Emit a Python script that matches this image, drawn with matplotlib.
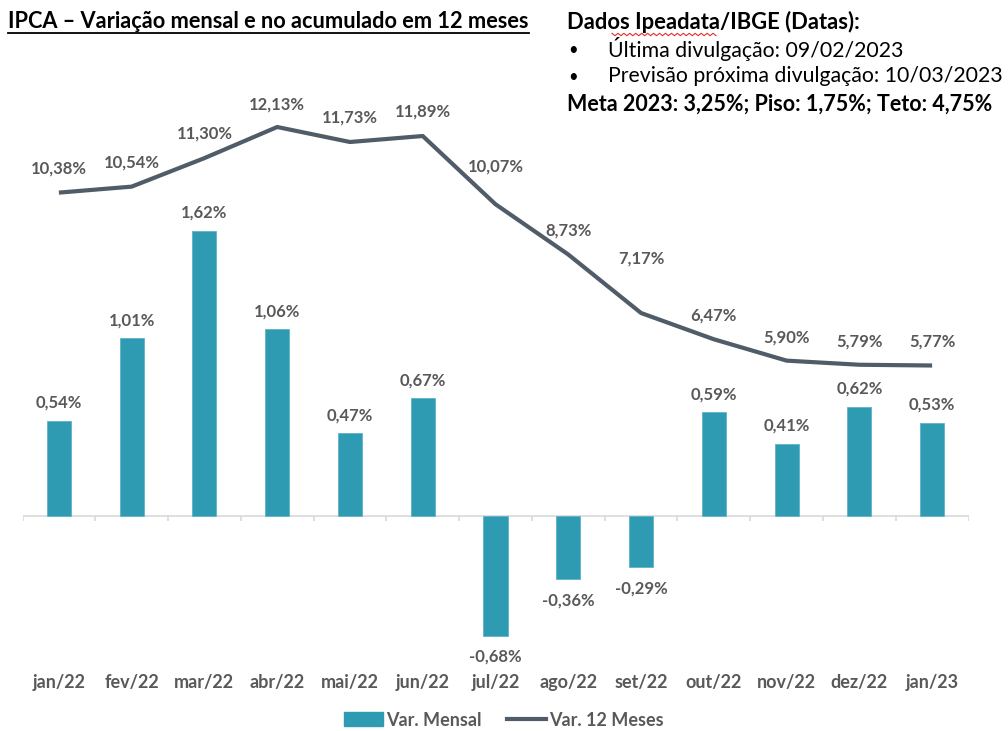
import numpy as np
import matplotlib.pyplot as plt
from matplotlib.lines import Line2D
from matplotlib.patches import Patch

# dados IPCA
meses = ["jan/22", "fev/22", "mar/22", "abr/22", "mai/22", "jun/22", "jul/22",
         "ago/22", "set/22", "out/22", "nov/22", "dez/22", "jan/23"]
var_mensal = [0.54, 1.01, 1.62, 1.06, 0.47, 0.67, -0.68, -0.36, -0.29, 0.59, 0.41, 0.62, 0.53]
var_12m = [10.38, 10.54, 11.30, 12.13, 11.73, 11.89, 10.07, 8.73, 7.17, 6.47, 5.90, 5.79, 5.77]

# deslocamento (px) dos rótulos da linha
desloc_12m = [24, 24, 25, 22, 24, 24, 38, 24, 54, 24, 23, 23, 24]

cor_barra = "#2E9BB2"
cor_linha = "#505C67"
cinza = "#595959"
fonte = "Lato"

plt.rcParams["font.family"] = fonte

W, H = 1008, 731
fig = plt.figure(figsize=(W / 100, H / 100), dpi=100)

# eixo em pixels: x 22.5-968.5, y 100-660 (de cima para baixo)
ax = fig.add_axes([22.5 / W, (H - 660) / H, 946 / W, 560 / H])
ax2 = ax.twinx()

x = np.arange(len(meses))
ax.bar(x, var_mensal, width=0.33, color=cor_barra, edgecolor="#5FB4C6", linewidth=0.6, zorder=2)
ax.set_xlim(-0.5, len(meses) - 0.5)
ax.set_ylim(-0.8182, 2.3636)

ax2.plot(x, var_12m, color=cor_linha, lw=3, solid_capstyle="butt", zorder=3)
ax2.set_ylim(-2.083, 12.85)

for a in (ax, ax2):
    for s in a.spines.values():
        s.set_visible(False)
    a.set_yticks([])
ax.set_xticks([])

# linha do zero com marcas entre categorias
ax.axhline(0, color="#D9D9D9", lw=1.2, zorder=1)
ax.vlines(np.arange(-0.5, len(meses)), -0.028, 0, color="#D9D9D9", lw=1.2, zorder=1)

# rótulos das barras
for i, v in enumerate(var_mensal):
    txt = f"{v:.2f}%".replace(".", ",")
    dy = 18 if v >= 0 else -21
    ax.annotate(txt, (i, v), xytext=(0, dy * 0.72), textcoords="offset points",
                ha="center", va="center", fontsize=12, fontweight="bold", color=cinza)

# rótulos da linha
for i, v in enumerate(var_12m):
    txt = f"{v:.2f}%".replace(".", ",")
    ax2.annotate(txt, (i, v), xytext=(0, desloc_12m[i] * 0.72), textcoords="offset points",
                 ha="center", va="center", fontsize=12, fontweight="bold", color=cinza)

# rótulos do eixo x
for i, m in enumerate(meses):
    ax.text(i, -0.041, m, transform=ax.get_xaxis_transform(), ha="center", va="center",
            fontsize=13, fontweight="bold", color=cinza)

# legenda
handles = [Patch(facecolor=cor_barra, edgecolor=cor_barra),
           Line2D([0], [0], color=cor_linha, lw=3)]
fig.legend(handles, ["Var. Mensal", "Var. 12 Meses"], loc="center", bbox_to_anchor=(0.5, 1 - 720 / H),
           ncol=2, frameon=False, handlelength=2.15, handleheight=0.8, handletextpad=0.2, columnspacing=1.4,
           prop={"family": fonte, "weight": "bold", "size": 13}, labelcolor=cinza)

# título
t = fig.text(8 / W, 1 - 22 / H, "IPCA – Variação mensal e no acumulado em 12 meses",
             ha="left", va="center", fontsize=15.7, fontweight="bold", color="black")

# bloco de informações
fig.text(567 / W, 1 - 22 / H, "Dados Ipeadata/IBGE (Datas):", ha="left", va="center",
         fontsize=15.8, fontweight="bold")
fig.text(568 / W, 1 - 50 / H, "•", ha="left", va="center", fontsize=12)
fig.text(608 / W, 1 - 49 / H, "Última divulgação: 09/02/2023", ha="left", va="center", fontsize=15.3)
fig.text(568 / W, 1 - 77 / H, "•", ha="left", va="center", fontsize=12)
fig.text(608 / W, 1 - 76 / H, "Previsão próxima divulgação: 10/03/2023", ha="left", va="center", fontsize=15.3)
fig.text(567 / W, 1 - 104 / H, "Meta 2023: 3,25%; Piso: 1,75%; Teto: 4,75%", ha="left", va="center",
         fontsize=15.5, fontweight="bold")

# sublinhado ondulado (corretor) sob "Ipeadata"
zx = np.linspace(612, 716, 36)
zy = 34.5 + np.where(np.arange(36) % 2 == 0, -1.2, 1.2)
fig.add_artist(Line2D(zx / W, 1 - zy / H, color="#E0302F", lw=0.8, transform=fig.transFigure))

# sublinhado do título
fig.canvas.draw()
bb = t.get_window_extent().transformed(fig.transFigure.inverted())
fig.add_artist(Line2D([bb.x0, bb.x1], [1 - 33 / H] * 2, color="black", lw=1.3, transform=fig.transFigure))

fig.savefig("out.png", dpi=100)
